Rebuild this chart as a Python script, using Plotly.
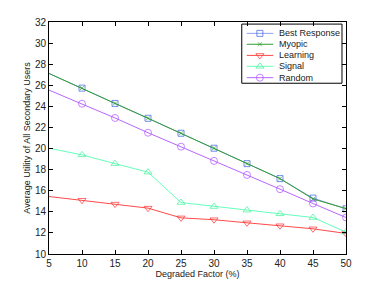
import plotly.graph_objects as go

x_vals = [5, 10, 15, 20, 25, 30, 35, 40, 45, 50]
best_response = [27.12, 25.73, 24.28, 22.87, 21.45, 20.03, 18.57, 17.15, 15.30, 14.29]
myopic = [27.12, 25.73, 24.28, 22.87, 21.45, 20.03, 18.57, 17.15, 15.22, 14.30]
learning = [15.45, 15.10, 14.73, 14.35, 13.43, 13.25, 12.96, 12.68, 12.39, 11.95]
signal = [20.03, 19.40, 18.57, 17.76, 14.88, 14.50, 14.16, 13.81, 13.46, 12.08]
random_ = [25.54, 24.25, 22.90, 21.50, 20.18, 18.83, 17.50, 16.15, 14.79, 13.46]

x_ticks = [5, 10, 15, 20, 25, 30, 35, 40, 45, 50]
y_ticks = [10, 12, 14, 16, 18, 20, 22, 24, 26, 28, 30, 32]

series_names = ["Best Response", "Myopic", "Learning", "Signal", "Random"]
series_values = [best_response, myopic, learning, signal, random_]

styles = [
    ("#8ea2f2", "#3a5fe0", "square-open", 6),
    ("#2f9e2f", "#2f9e2f", "x-thin-open", 4),
    ("#ff4a4a", "#ff3030", "triangle-down-open", 7),
    ("#66ffbb", "#44ee99", "triangle-up-open", 7),
    ("#b866ff", "#b050ff", "circle-open", 7),
]

FONT = "Liberation Sans, Arial"

fig = go.Figure()
for name, ys, (lc, mc, sym, ms) in zip(series_names, series_values, styles):
    sizes = [0] + [ms] * (len(x_vals) - 1)
    fig.add_trace(go.Scatter(
        x=x_vals, y=ys, name=name, mode="lines+markers",
        line=dict(color=lc, width=1),
        marker=dict(symbol=sym, size=sizes, color=mc, line=dict(color=mc, width=1)),
        cliponaxis=True, showlegend=False,
    ))

# Custom compact legend (overlay axes in 0..1 plot-fraction units)
leg_x0, leg_xm, leg_x1, leg_tx = 0.666, 0.710, 0.755, 0.767
leg_rows = [0.951, 0.904, 0.856, 0.809, 0.760]
for name, row, (lc, mc, sym, ms) in zip(series_names, leg_rows, styles):
    fig.add_trace(go.Scatter(
        x=[leg_x0, leg_xm, leg_x1], y=[row, row, row], mode="lines+markers",
        xaxis="x2", yaxis="y2",
        line=dict(color=lc, width=1),
        marker=dict(symbol=sym, size=[0, ms, 0], color=mc, line=dict(color=mc, width=1)),
        showlegend=False, hoverinfo="skip",
    ))
    fig.add_annotation(x=leg_tx, y=row, xref="paper", yref="paper", text=name,
                       showarrow=False, xanchor="left", yanchor="middle",
                       font=dict(family=FONT, size=9, color="#222"))

fig.add_shape(type="rect", xref="paper", yref="paper", x0=0.649, x1=0.9865, y0=0.736, y1=0.991,
              line=dict(color="black", width=1), fillcolor="white", layer="below")

axis_common = dict(
    showline=True, linecolor="black", linewidth=1, mirror="ticks",
    ticks="inside", ticklen=4, tickcolor="black",
    showgrid=False, zeroline=False, automargin=False,
    tickfont=dict(family=FONT, size=10, color="#222"),
)

fig.update_layout(
    width=366, height=271,
    margin=dict(l=41, r=28, t=14, b=25),
    paper_bgcolor="white", plot_bgcolor="white",
    font=dict(family=FONT, size=9, color="#222"),
    xaxis=dict(range=[5, 50], tickvals=x_ticks,
               title=dict(text="Degraded Factor (%)", standoff=0, font=dict(size=9)),
               **axis_common),
    yaxis=dict(range=[10, 32], tickvals=y_ticks,
               title=dict(text="Average Utility of All Secondary Users", standoff=2, font=dict(size=9)),
               **axis_common),
    xaxis2=dict(range=[0, 1], overlaying="x", visible=False, fixedrange=True),
    yaxis2=dict(range=[0, 1], overlaying="y", visible=False, fixedrange=True),
    showlegend=False,
)

fig.write_html("out.html")
